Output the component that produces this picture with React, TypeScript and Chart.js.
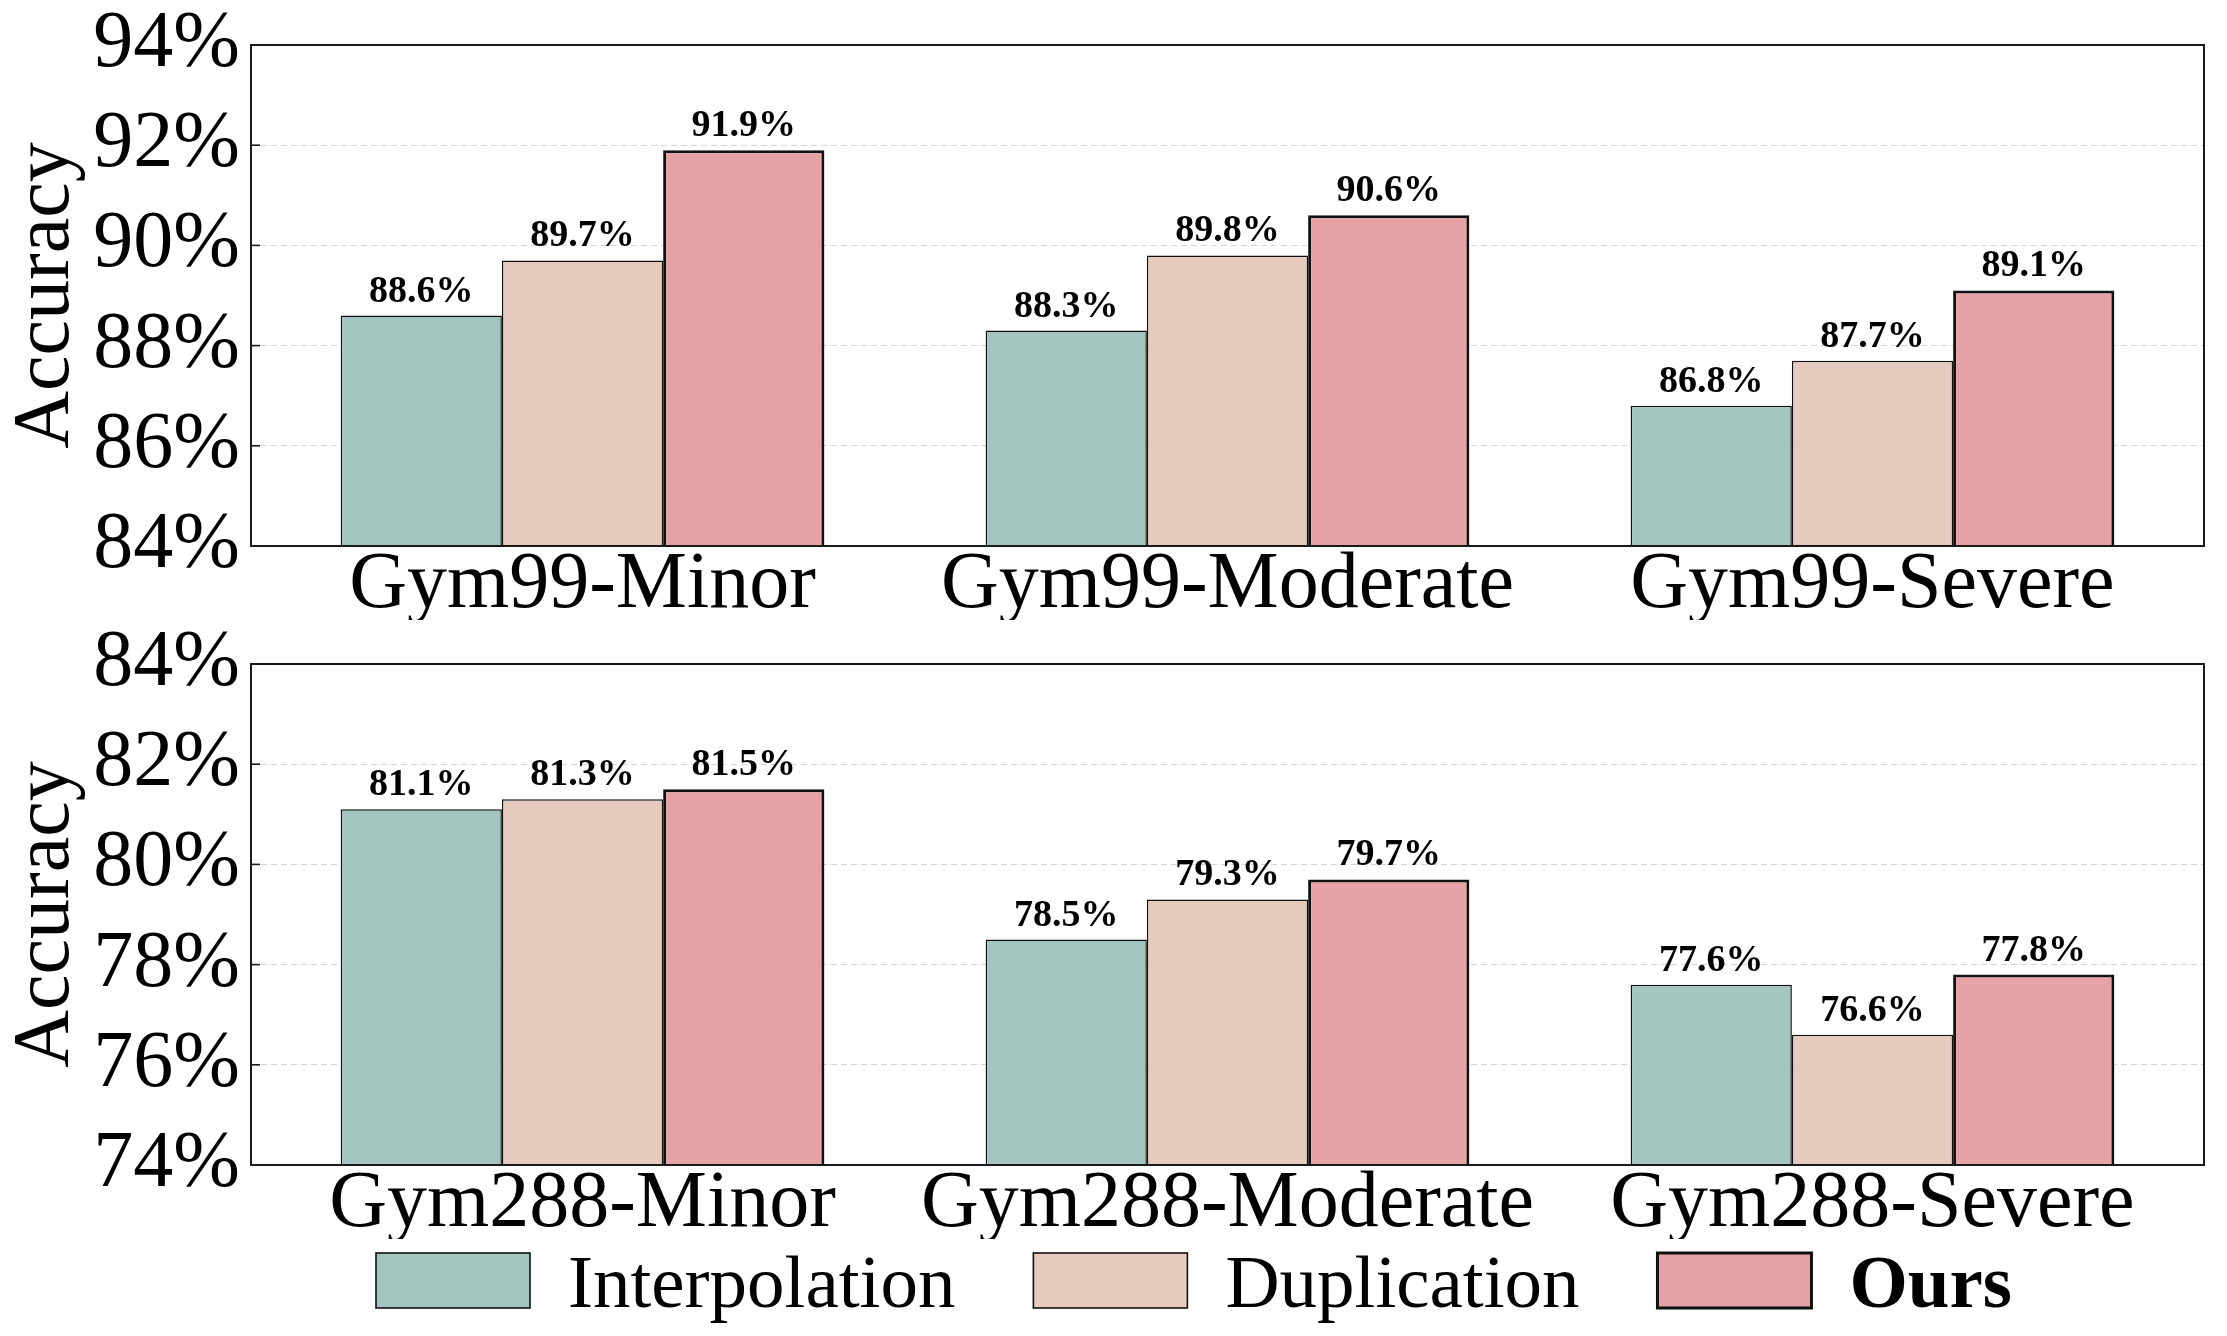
import React, { useEffect, useRef } from 'react';
import { Chart, registerables } from 'chart.js';

Chart.register(...registerables);

const seriesNames = ['Interpolation', 'Duplication', 'Ours'];
const seriesColors = ['#A4C5BF', '#E5CABD', '#E7A2A5'];

const gym99Categories = ['Gym99-Minor', 'Gym99-Moderate', 'Gym99-Severe'];
const gym99Interpolation = [88.6, 88.3, 86.8];
const gym99Duplication = [89.7, 89.8, 87.7];
const gym99Ours = [91.9, 90.6, 89.1];
const gym99YTicks = [84, 86, 88, 90, 92, 94];

const gym288Categories = ['Gym288-Minor', 'Gym288-Moderate', 'Gym288-Severe'];
const gym288Interpolation = [81.1, 78.5, 77.6];
const gym288Duplication = [81.3, 79.3, 76.6];
const gym288Ours = [81.5, 79.7, 77.8];
const gym288YTicks = [74, 76, 78, 80, 82, 84];

const yTitle = 'Accuracy';
const FONT = '"Liberation Serif", "Times New Roman", serif';

const framePlugin = {
  id: 'frame',
  afterDatasetsDraw(chart: any) {
    const { ctx, chartArea } = chart;
    const ys = chart.scales.y;
    ctx.save();
    ctx.strokeStyle = '#1a1a1a';
    ctx.lineWidth = 1.6;
    ys.ticks.forEach((t: any) => {
      const py = ys.getPixelForValue(t.value);
      ctx.beginPath();
      ctx.moveTo(chartArea.left, py);
      ctx.lineTo(chartArea.left + 9, py);
      ctx.stroke();
    });
    ctx.lineWidth = 2;
    ctx.strokeRect(chartArea.left, chartArea.top, chartArea.right - chartArea.left, chartArea.bottom - chartArea.top);
    ctx.restore();
  },
};

const valueLabelPlugin = {
  id: 'valueLabels',
  afterDatasetsDraw(chart: any) {
    const { ctx } = chart;
    ctx.save();
    ctx.font = `bold 38px ${FONT}`;
    ctx.fillStyle = '#000';
    ctx.textAlign = 'center';
    ctx.textBaseline = 'alphabetic';
    chart.data.datasets.forEach((ds: any, i: number) => {
      const meta = chart.getDatasetMeta(i);
      meta.data.forEach((bar: any, j: number) => {
        const v = ds.data[j].y;
        ctx.fillText(`${v.toFixed(1)}%`, bar.x, bar.y - 14);
      });
    });
    ctx.restore();
  },
};

const legendPlugin = {
  id: 'customLegend',
  afterDraw(chart: any) {
    const { ctx } = chart;
    ctx.save();
    let x = 376;
    const boxTop = 633;
    const boxW = 154;
    const boxH = 55;
    const baseline = 687;
    chart.data.datasets.forEach((ds: any, i: number) => {
      ctx.fillStyle = ds.backgroundColor;
      ctx.fillRect(x, boxTop, boxW, boxH);
      ctx.strokeStyle = '#111';
      ctx.lineWidth = i === 2 ? 3 : 1.6;
      ctx.strokeRect(x, boxTop, boxW, boxH);
      const bold = i === 2;
      ctx.font = `${bold ? 'bold ' : ''}75px ${FONT}`;
      ctx.fillStyle = '#000';
      ctx.textAlign = 'left';
      ctx.textBaseline = 'alphabetic';
      const tx = x + boxW + 38;
      ctx.fillText(ds.label, tx, baseline);
      x = tx + ctx.measureText(ds.label).width + 78;
    });
    ctx.restore();
  },
};

function makeConfig(
  categories: string[],
  series: number[][],
  yTicks: number[],
  padding: any,
  withLegend: boolean
): any {
  const datasets = seriesNames.map((name, i) => ({
    label: name,
    data: categories.map((_, k) => ({ x: k, y: series[i][k] })),
    backgroundColor: seriesColors[i],
    borderColor: '#111',
    borderWidth: i === 2 ? 3 : 1.5,
    borderSkipped: false,
    categoryPercentage: 0.75,
    barPercentage: 1.0,
  }));
  return {
    type: 'bar',
    data: { datasets },
    plugins: withLegend ? [framePlugin, valueLabelPlugin, legendPlugin] : [framePlugin, valueLabelPlugin],
    options: {
      animation: false,
      responsive: false,
      devicePixelRatio: 1,
      layout: { padding },
      plugins: { legend: { display: false }, tooltip: { enabled: false } },
      scales: {
        x: {
          type: 'linear',
          min: -0.514,
          max: categories.length - 1 + 0.514,
          bounds: 'data',
          offset: false,
          grid: { display: false, drawTicks: false, offset: false },
          border: { display: false },
          afterBuildTicks: (s: any) => {
            s.ticks = categories.map((_, k) => ({ value: k }));
          },
          ticks: {
            autoSkip: false,
            maxRotation: 0,
            minRotation: 0,
            padding: -8,
            color: '#000',
            font: { family: FONT, size: 80 },
            callback: (v: number) => (Number.isInteger(v) && categories[v] !== undefined ? categories[v] : ''),
          },
          afterFit: (s: any) => {
            s.height = 74;
          },
        },
        y: {
          min: yTicks[0],
          max: yTicks[yTicks.length - 1],
          grid: { color: '#d4d4d4', lineWidth: 1, drawTicks: false },
          border: { display: false, dash: [6, 4] },
          ticks: {
            stepSize: yTicks[1] - yTicks[0],
            autoSkip: false,
            padding: 11,
            color: '#000',
            font: { family: FONT, size: 80, lineHeight: 0.8 },
            callback: (v: number) => `${v}%`,
          },
          title: {
            display: true,
            text: yTitle,
            color: '#000',
            font: { family: FONT, size: 80, lineHeight: 1.0 },
            padding: { top: 7, bottom: 0 },
          },
          afterFit: (s: any) => {
            s.width = 251;
          },
        },
      },
    },
  };
}

function BarPanel(props: { config: any; top: number; height: number }) {
  const ref = useRef<HTMLCanvasElement>(null);
  useEffect(() => {
    if (!ref.current) return;
    const chart = new Chart(ref.current, props.config);
    return () => chart.destroy();
  }, []);
  return (
    <canvas
      ref={ref}
      width={2227}
      height={props.height}
      style={{ position: 'absolute', left: 0, top: props.top, width: 2227, height: props.height }}
    />
  );
}

export default function App() {
  const topConfig = makeConfig(
    gym99Categories,
    [gym99Interpolation, gym99Duplication, gym99Ours],
    gym99YTicks,
    { top: 45, right: 23, left: 0, bottom: 0 },
    false
  );
  const bottomConfig = makeConfig(
    gym288Categories,
    [gym288Interpolation, gym288Duplication, gym288Ours],
    gym288YTicks,
    { top: 44, right: 23, left: 0, bottom: 97 },
    true
  );
  return (
    <div style={{ position: 'absolute', left: 0, top: 0, width: 2227, height: 1336, background: '#fff' }}>
      <BarPanel config={topConfig} top={0} height={620} />
      <BarPanel config={bottomConfig} top={620} height={716} />
    </div>
  );
}
